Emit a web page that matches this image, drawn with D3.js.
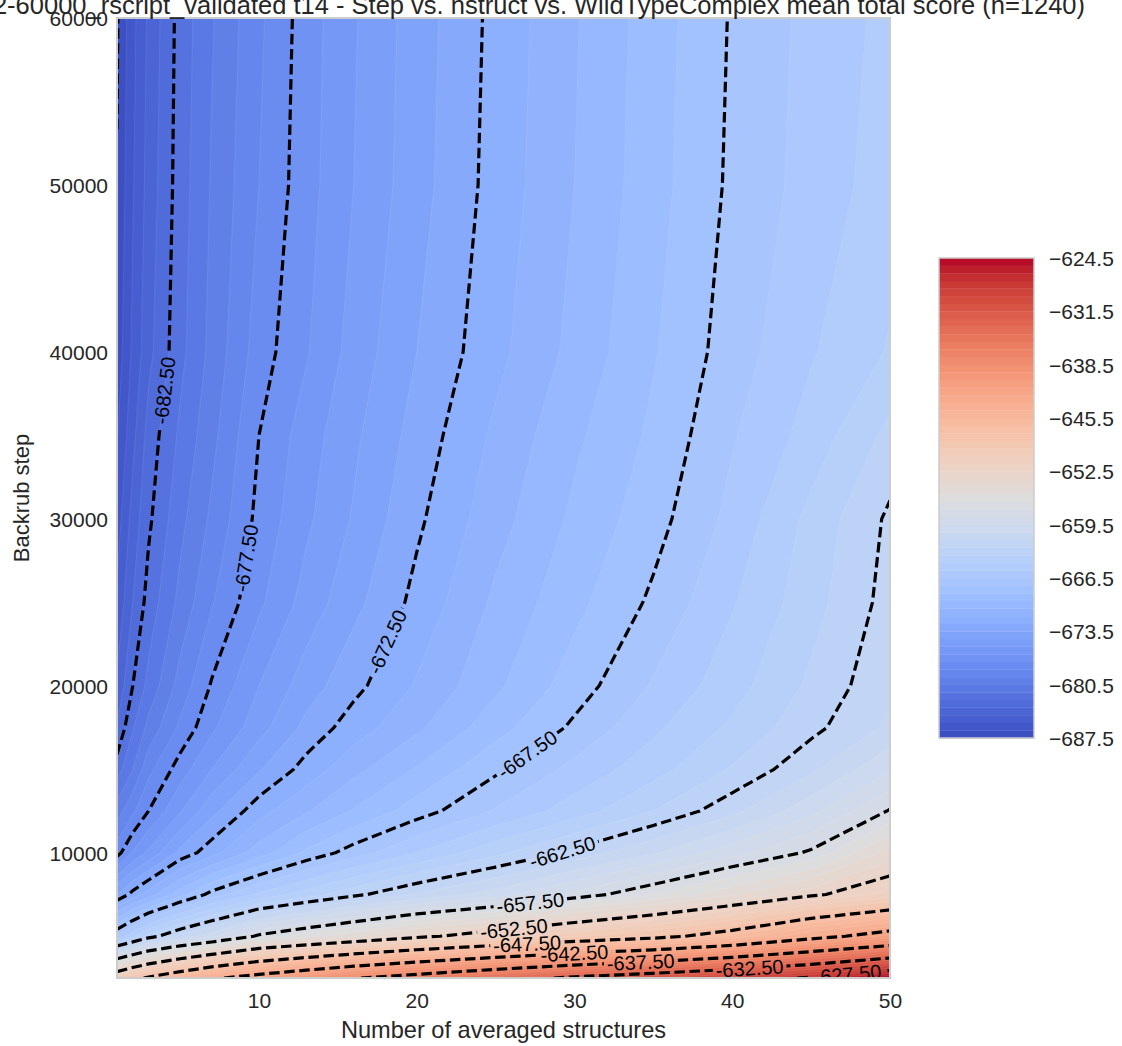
<!DOCTYPE html>
<html><head><meta charset="utf-8">
<script src="https://cdn.jsdelivr.net/npm/d3@7"></script>
<style>
body{margin:0;background:#fff}
svg{display:block}
text{font-family:"Liberation Sans",Arial,Helvetica,sans-serif;fill:#262626}
</style>
</head><body>
<svg id="chart" width="1122" height="1046"></svg>
<script>
// ---------------- data ----------------
const nstruct = [1, 2, 3, 5, 7, 10, 13, 16, 20, 25, 30, 35, 40, 45, 50];
const backrubSteps = [2500, 5000, 7500, 10000, 12500, 15000, 17500, 20000, 25000, 30000, 35000, 40000, 50000, 60000];
// mean total score: one row per backrub step (same order as backrubSteps), one column per nstruct value
const meanScore = [
  [-650.0, -648.4, -647.1, -645.05, -643.0, -641.1, -639.4, -637.7, -636.0, -633.9, -632.0, -630.5, -628.9, -627.2, -624.5], // 2500
  [-666.3, -664.7, -663.1, -661.2, -659.8, -657.2, -655.9, -654.7, -653.0, -651.3, -649.7, -648.3, -646.3, -643.5, -641.2], // 5000
  [-673.5, -672.1, -671.0, -668.9, -667.1, -665.3, -664.0, -662.8, -661.4, -660.0, -658.2, -656.5, -654.7, -652.8, -651.2], // 7500
  [-677.9, -676.4, -675.3, -673.2, -671.9, -670.0, -668.3, -667.0, -665.5, -663.8, -662.2, -660.6, -658.9, -657.3, -654.1], // 10000
  [-680.0, -678.7, -677.5, -675.6, -673.8, -671.9, -670.6, -669.4, -668.0, -666.4, -665.0, -663.5, -661.8, -659.8, -657.4], // 12500
  [-682.0, -680.5, -678.8, -677.0, -675.5, -673.6, -672.1, -670.8, -669.4, -667.7, -666.2, -664.9, -663.4, -661.7, -659.6], // 15000
  [-683.4, -681.6, -680.2, -678.3, -676.7, -674.9, -673.2, -672.0, -670.7, -668.9, -667.3, -665.7, -664.3, -662.8, -661.3], // 17500
  [-684.3, -682.5, -681.2, -679.1, -677.4, -675.5, -674.0, -672.8, -671.4, -669.7, -668.0, -666.4, -664.9, -663.3, -661.7], // 20000
  [-685.3, -683.5, -682.1, -680.2, -678.6, -676.7, -675.1, -673.8, -672.2, -670.3, -668.8, -667.3, -665.6, -663.9, -662.1], // 25000
  [-686.0, -684.1, -682.7, -680.8, -679.3, -677.2, -675.7, -674.4, -672.7, -670.9, -669.3, -667.9, -666.2, -664.2, -662.3], // 30000
  [-686.6, -684.8, -683.1, -681.3, -679.8, -677.5, -676.0, -674.7, -673.1, -671.3, -669.7, -668.3, -666.6, -665.1, -663.2], // 35000
  [-687.1, -685.3, -683.8, -681.8, -680.2, -678.0, -676.6, -675.1, -673.5, -671.8, -670.2, -668.6, -667.0, -665.6, -664.4], // 40000
  [-687.45, -685.6, -684.1, -682.0, -680.4, -678.5, -676.9, -675.5, -673.9, -672.1, -670.5, -668.9, -667.3, -666.1, -665.0], // 50000
  [-687.6, -685.8, -684.3, -682.1, -680.6, -678.7, -677.0, -675.6, -674.0, -672.2, -670.6, -669.0, -667.4, -666.2, -665.2]  // 60000
];
const fillMin = -687.5, fillMax = -624.5, fillStep = 1;          // filled contour levels
const lineLevels = [-687.5, -682.5, -677.5, -672.5, -667.5, -662.5, -657.5, -652.5, -647.5, -642.5, -637.5, -632.5, -627.5];
const xTickValues = [10, 20, 30, 40, 50];
const yTickValues = [10000, 20000, 30000, 40000, 50000, 60000];
const colorbarTicks = [-687.5, -680.5, -673.5, -666.5, -659.5, -652.5, -645.5, -638.5, -631.5, -624.5];
const titleText = "zemu_1.2-60000_rscript_validated t14 - Step vs. nstruct vs. WildTypeComplex mean total score (n=1240)";
const xLabel = "Number of averaged structures";
const yLabel = "Backrub step";
// where the inline contour labels sit (data units); snapped to the line
const labelAnchors = [
  {level: -682.5, x: 3.92, y: 37700}, {level: -677.5, x: 8.8, y: 27700},
  {level: -672.5, x: 18.2, y: 22600}, {level: -667.5, x: 27.0, y: 15900},
  {level: -662.5, x: 29.2, y: 10170}, {level: -657.5, x: 27.2, y: 7000},
  {level: -652.5, x: 26.2, y: 5080},  {level: -647.5, x: 27.0, y: 4480},
  {level: -642.5, x: 30.0, y: 3880},  {level: -637.5, x: 34.2, y: 3460},
  {level: -632.5, x: 41.1, y: 3100},  {level: -627.5, x: 47.3, y: 2800}
];
// coolwarm (Moreland) control colours
const coolwarmStops = [
  [59,76,192],[68,90,204],[77,104,215],[87,117,225],[98,130,234],[108,142,241],[119,154,247],[130,165,251],
  [141,176,254],[152,185,255],[163,194,255],[174,201,253],[184,208,249],[194,213,244],[204,217,238],[213,219,230],
  [221,221,221],[229,216,209],[236,211,197],[241,204,185],[245,196,173],[247,187,160],[247,177,148],[247,166,135],
  [244,154,123],[241,141,111],[236,127,99],[229,112,88],[222,96,77],[213,80,66],[203,62,56],[192,40,47],[180,4,38]
];

// ---------------- layout ----------------
const W = 1122, H = 1046;
const plot = {left: 117, right: 890, top: 18, bottom: 978};
const cb = {left: 939, right: 1034, top: 258, bottom: 738};
const FONT_TICK = 21, FONT_XLABEL = 23.6, FONT_YLABEL = 22, FONT_TITLE = 25.5, FONT_CLABEL = 20;

const svg = d3.select("#chart");
const x = d3.scaleLinear().domain([nstruct[0], nstruct[nstruct.length-1]]).range([plot.left, plot.right]);
const y = d3.scaleLinear().domain([backrubSteps[0], backrubSteps[backrubSteps.length-1]]).range([plot.bottom, plot.top]);
const cmap = d3.scaleLinear().domain(coolwarmStops.map((_, i) => i / (coolwarmStops.length - 1)))
  .range(coolwarmStops.map(c => d3.rgb(c[0], c[1], c[2]))).interpolate(d3.interpolateRgb).clamp(true);
const nBands = Math.round((fillMax - fillMin) / fillStep);
const bandColor = k => cmap((k + 0.5) / nBands);

// ---------------- contour geometry ----------------
const nx = nstruct.length, ny = backrubSteps.length;
const values = meanScore.flat();
const contourGen = d3.contours().size([nx, ny]).smooth(true);
function gridToData(c, arr) {
  const i = c - 0.5;
  if (i <= 0) return arr[0];
  if (i >= arr.length - 1) return arr[arr.length - 1];
  const i0 = Math.floor(i), f = i - i0;
  return arr[i0] + f * (arr[i0 + 1] - arr[i0]);
}
const toData = p => [gridToData(p[0], nstruct), gridToData(p[1], backrubSteps)];
const toPx = d => [x(d[0]), y(d[1])];
function multiPath(geom) {
  return geom.coordinates.map(poly => poly.map(ring =>
    "M" + ring.map(p => toPx(toData(p)).map(v => v.toFixed(2)).join(",")).join("L") + "Z").join("")).join("");
}

const defs = svg.append("defs");
defs.append("clipPath").attr("id", "plotclip").append("rect")
  .attr("x", plot.left).attr("y", plot.top).attr("width", plot.right - plot.left).attr("height", plot.bottom - plot.top);

// filled bands (painter's order)
const gFill = svg.append("g").attr("clip-path", "url(#plotclip)");
gFill.append("rect").attr("x", plot.left).attr("y", plot.top)
  .attr("width", plot.right - plot.left).attr("height", plot.bottom - plot.top).attr("fill", bandColor(0));
for (let k = 1; k < nBands; k++) {
  const t = fillMin + k * fillStep;
  const geom = contourGen.contour(values, t);
  if (!geom.coordinates.length) continue;
  gFill.append("path").attr("d", multiPath(geom)).attr("fill", bandColor(k))
    .attr("fill-rule", "evenodd").attr("stroke", "#ffffff").attr("stroke-opacity", 0.13).attr("stroke-width", 0.7);
}

// iso lines (drop the parts that run along the plot border)
const eps = 1e-6;
function sides(d) {
  const s = [];
  if (Math.abs(d[0] - nstruct[0]) < eps) s.push("L");
  if (Math.abs(d[0] - nstruct[nx - 1]) < eps) s.push("R");
  if (Math.abs(d[1] - backrubSteps[0]) < eps) s.push("B");
  if (Math.abs(d[1] - backrubSteps[ny - 1]) < eps) s.push("T");
  return s;
}
const linesByLevel = {};
lineLevels.forEach(level => {
  const geom = contourGen.contour(values, level);
  const polylines = [];
  geom.coordinates.forEach(poly => poly.forEach(ring => {
    let pts = ring.map(p => toData(p));
    if (pts.length > 1) {
      const a = pts[0], b = pts[pts.length - 1];
      if (Math.abs(a[0] - b[0]) < eps && Math.abs(a[1] - b[1]) < eps) pts = pts.slice(0, -1);
    }
    const n = pts.length;
    const sd = pts.map(sides);
    const keep = pts.map((p, i) => {
      const s1 = sd[i], s2 = sd[(i + 1) % n];
      return !s1.some(s => s2.includes(s));
    });
    const start = keep.indexOf(false);
    if (start < 0) { polylines.push(pts.concat([pts[0]]).map(toPx)); return; }
    let cur = null;
    for (let j = 1; j <= n; j++) {
      const i = (start + j) % n;
      if (keep[i]) {
        if (!cur) cur = [pts[i]];
        cur.push(pts[(i + 1) % n]);
      } else if (cur) { polylines.push(cur.map(toPx)); cur = null; }
    }
    if (cur) polylines.push(cur.map(toPx));
  }));
  linesByLevel[level] = polylines;
});

const mask = defs.append("mask").attr("id", "labelmask").attr("maskUnits", "userSpaceOnUse")
  .attr("x", 0).attr("y", 0).attr("width", W).attr("height", H);
mask.append("rect").attr("x", 0).attr("y", 0).attr("width", W).attr("height", H).attr("fill", "#fff");

const gLinesClip = svg.append("g").attr("clip-path", "url(#plotclip)");
const gLines = gLinesClip.append("g").attr("mask", "url(#labelmask)");
const lineGen = d3.line();
lineLevels.forEach(level => {
  linesByLevel[level].forEach(pl => {
    gLines.append("path").attr("d", lineGen(pl)).attr("fill", "none").attr("stroke", "#000")
      .attr("stroke-width", 3.2).attr("stroke-dasharray", "10.5,4.6").attr("stroke-linejoin", "round");
  });
});

// inline contour labels (clipped to the axes, like the reference)
const gLabels = svg.append("g").attr("clip-path", "url(#plotclip)");
labelAnchors.forEach(a => {
  const target = [x(a.x), y(a.y)];
  let best = null;
  (linesByLevel[a.level] || []).forEach(pl => {
    for (let i = 0; i < pl.length - 1; i++) {
      const p = pl[i], q = pl[i + 1];
      const dx = q[0] - p[0], dy = q[1] - p[1];
      const L2 = dx * dx + dy * dy;
      if (L2 === 0) continue;
      let t = ((target[0] - p[0]) * dx + (target[1] - p[1]) * dy) / L2;
      t = Math.max(0, Math.min(1, t));
      const c = [p[0] + t * dx, p[1] + t * dy];
      const dist = Math.hypot(c[0] - target[0], c[1] - target[1]);
      if (!best || dist < best.dist) best = {dist, c, ang: Math.atan2(dy, dx) * 180 / Math.PI};
    }
  });
  if (!best) return;
  let ang = best.ang;
  if (ang > 90) ang -= 180;
  if (ang < -90) ang += 180;
  const tr = `translate(${best.c[0].toFixed(2)},${best.c[1].toFixed(2)}) rotate(${ang.toFixed(2)})`;
  const txt = gLabels.append("text").attr("transform", tr).attr("text-anchor", "middle")
    .attr("dy", "0.36em").style("font-size", FONT_CLABEL + "px").style("fill", "#000")
    .text(a.level.toFixed(2));
  const w = txt.node().getComputedTextLength();
  mask.append("rect").attr("transform", tr).attr("x", -w / 2 - 3).attr("y", -FONT_CLABEL * 0.45)
    .attr("width", w + 6).attr("height", FONT_CLABEL * 0.9).attr("fill", "#000");
});

// frame
svg.append("rect").attr("x", plot.left).attr("y", plot.top)
  .attr("width", plot.right - plot.left).attr("height", plot.bottom - plot.top)
  .attr("fill", "none").attr("stroke", "#cccccc").attr("stroke-width", 2);

// axes
const gx = svg.append("g").attr("transform", `translate(0,${plot.bottom})`)
  .call(d3.axisBottom(x).tickValues(xTickValues).tickSize(0).tickPadding(15).tickFormat(d3.format("d")));
const gy = svg.append("g").attr("transform", `translate(${plot.left},0)`)
  .call(d3.axisLeft(y).tickValues(yTickValues).tickSize(0).tickPadding(9).tickFormat(d3.format("d")));
[gx, gy].forEach(g => {
  g.select(".domain").remove();
  g.selectAll("text").style("font-size", FONT_TICK + "px").style("fill", "#262626")
    .style("font-family", '"Liberation Sans",Arial,sans-serif');
});
gy.selectAll("text").attr("dy", "0.36em");

svg.append("text").attr("x", (plot.left + plot.right) / 2).attr("y", 1038).attr("text-anchor", "middle")
  .style("font-size", FONT_XLABEL + "px").text(xLabel);
svg.append("text").attr("transform", `translate(29,${(plot.top + plot.bottom) / 2}) rotate(-90)`)
  .attr("text-anchor", "middle").style("font-size", FONT_YLABEL + "px").text(yLabel);
svg.append("text").attr("x", 1085).attr("y", 14).attr("text-anchor", "end")
  .style("font-size", FONT_TITLE + "px").text(titleText);

// colorbar
const cbScale = d3.scaleLinear().domain([fillMin, fillMax]).range([cb.bottom, cb.top]);
const gcb = svg.append("g");
gcb.selectAll("rect.band").data(d3.range(nBands)).join("rect").attr("class", "band")
  .attr("x", cb.left).attr("width", cb.right - cb.left)
  .attr("y", k => cbScale(fillMin + (k + 1) * fillStep))
  .attr("height", k => cbScale(fillMin + k * fillStep) - cbScale(fillMin + (k + 1) * fillStep) + 0.3)
  .attr("fill", k => bandColor(k));
gcb.append("rect").attr("x", cb.left).attr("y", cb.top).attr("width", cb.right - cb.left)
  .attr("height", cb.bottom - cb.top).attr("fill", "none").attr("stroke", "#cccccc").attr("stroke-width", 1.5);
const gca = svg.append("g").attr("transform", `translate(${cb.right},0)`)
  .call(d3.axisRight(cbScale).tickValues(colorbarTicks).tickSize(0).tickPadding(15).tickFormat(d3.format(".1f")));
gca.select(".domain").remove();
gca.selectAll("text").style("font-size", FONT_TICK + "px").style("fill", "#262626").attr("dy", "0.36em")
  .style("font-family", '"Liberation Sans",Arial,sans-serif');
</script>
</body></html>
